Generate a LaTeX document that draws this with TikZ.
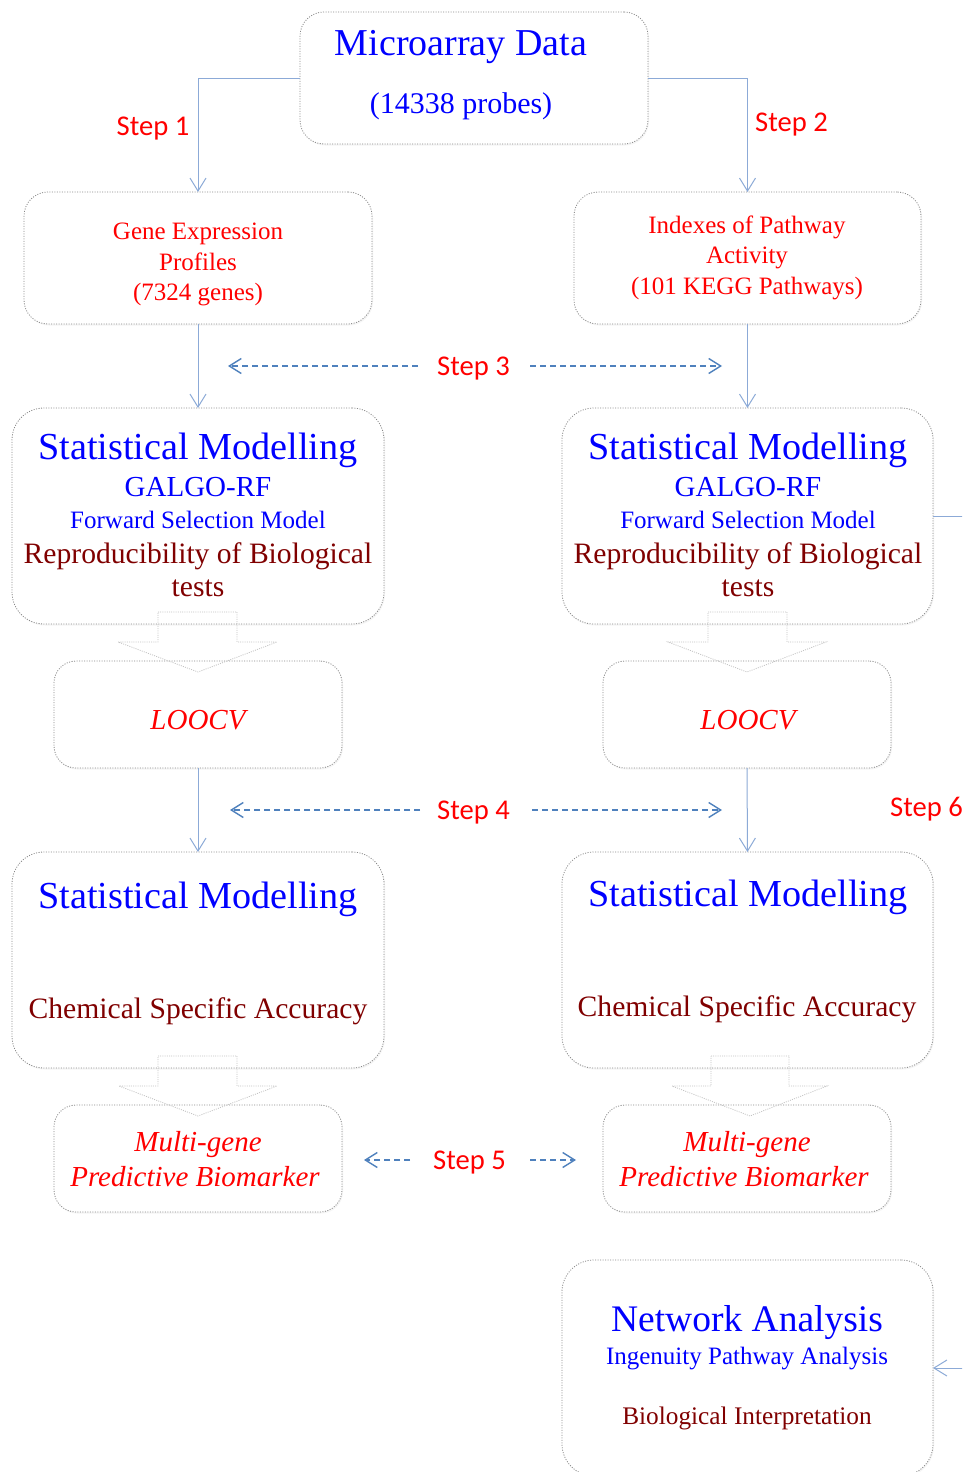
\documentclass[tikz,border=0pt]{standalone}
\usepackage{fontspec}
\setmainfont{Liberation Serif}
\newfontfamily\stepfont{Carlito}
\usetikzlibrary{arrows.meta,shadows}
\definecolor{tblue}{RGB}{0,0,255}
\definecolor{tred}{RGB}{255,0,0}
\definecolor{tdark}{RGB}{128,0,0}
\definecolor{connblue}{RGB}{140,170,215}
\definecolor{dashblue}{RGB}{79,129,189}
\definecolor{boxline}{RGB}{135,135,135}
\definecolor{blockline}{RGB}{195,195,195}
\newcommand{\fs}[1]{\fontsize{#1}{#1}\selectfont}
\begin{document}
\begin{tikzpicture}[x=1pt,y=-1pt,
  box/.style={draw=boxline, line width=0.8pt, dash pattern=on 1pt off 1.5pt,
    rounded corners=#1, fill=white, inner sep=0pt, outer sep=0pt,
    drop shadow={shadow xshift=1pt, shadow yshift=-1.5pt, opacity=0.08}},
  box/.default=28pt,
  conn/.style={draw=connblue, line width=1pt, -{Straight Barb[length=13pt,width=16pt]}},
  darr/.style={draw=dashblue, line width=1.4pt, dash pattern=on 6pt off 4pt,
    -{Straight Barb[length=12pt,width=15pt]}},
  blockarr/.style={draw=blockline, line width=0.8pt, dash pattern=on 1pt off 1.2pt},
  txt/.style={inner sep=0pt, anchor=base},
  steplbl/.style={font=\stepfont\fs{28.6}, text=tred, inner sep=0pt, anchor=base},
]
\useasboundingbox (0,0) rectangle (962,1472);
\clip (0,0) rectangle (962,1472);
\fill[white] (0,0) rectangle (962,1472);

% boxes
\node[box=24pt, minimum width=348pt, minimum height=132pt] (micro) at (474,78) {};
\node[box=24pt, minimum width=348pt, minimum height=132pt] (gene) at (198,258) {};
\node[box=24pt, minimum width=347pt, minimum height=132pt] (path) at (747.5,258) {};
\node[box=32pt, minimum width=372pt, minimum height=216pt] (statL) at (198,516) {};
\node[box=32pt, minimum width=371pt, minimum height=216pt] (statR) at (747.5,516) {};
\node[box=22pt, minimum width=288pt, minimum height=107pt] (loocvL) at (198,714.5) {};
\node[box=22pt, minimum width=288pt, minimum height=107pt] (loocvR) at (747,714.5) {};
\node[box=32pt, minimum width=372pt, minimum height=216pt] (chemL) at (198,960) {};
\node[box=32pt, minimum width=371pt, minimum height=216pt] (chemR) at (747.5,960) {};
\node[box=22pt, minimum width=288pt, minimum height=107pt] (multiL) at (198,1158.5) {};
\node[box=22pt, minimum width=288pt, minimum height=107pt] (multiR) at (747,1158.5) {};
\node[box=32pt, minimum width=371pt, minimum height=216pt] (net) at (747.5,1368) {};

% texts
\node[txt, font=\fs{38}, text=tblue] (t1a) at (461,56) {Microarray Data};
\node[txt, font=\fs{30}, text=tblue] (t1b) at (461,113) {(14338 probes)};

\node[txt, font=\fs{25}, text=tred] (g1) at (198,239) {Gene Expression};
\node[txt, font=\fs{25}, text=tred] (g2) at (198,270) {Profiles};
\node[txt, font=\fs{25}, text=tred] (g3) at (198,300) {(7324 genes)};

\node[txt, font=\fs{25}, text=tred] (p1) at (747,233) {Indexes of Pathway};
\node[txt, font=\fs{25}, text=tred] (p2) at (747,263) {Activity};
\node[txt, font=\fs{25}, text=tred] (p3) at (747,294) {(101 KEGG Pathways)};

\foreach \cx/\nm in {198/L, 748/R}{
  \node[txt, font=\fs{38.2}, text=tblue] (sa\nm) at (\cx,459) {Statistical Modelling};
  \node[txt, font=\fs{29}, text=tblue] (sb\nm) at (\cx,496) {GALGO-RF};
  \node[txt, font=\fs{25}, text=tblue] (sc\nm) at (\cx,528) {Forward Selection Model};
  \node[txt, font=\fs{29.6}, text=tdark] (sd\nm) at (\cx,563) {Reproducibility of Biological};
  \node[txt, font=\fs{29.6}, text=tdark] (se\nm) at (\cx,596) {tests};
  \node[txt, font=\fs{29}\itshape, text=tred] (lo\nm) at (\cx,729) {LOOCV};
}
\node[txt, font=\fs{38.2}, text=tblue] (caL) at (198,908) {Statistical Modelling};
\node[txt, font=\fs{29.6}, text=tdark] (cbL) at (198,1018) {Chemical Specific Accuracy};
\node[txt, font=\fs{38.2}, text=tblue] (caR) at (748,906) {Statistical Modelling};
\node[txt, font=\fs{29.6}, text=tdark] (cbR) at (747,1016) {Chemical Specific Accuracy};

\node[txt, font=\fs{29}\itshape, text=tred] (maL) at (198,1151) {Multi-gene};
\node[txt, font=\fs{29}\itshape, text=tred] (mbL) at (195,1186) {Predictive Biomarker};
\node[txt, font=\fs{29}\itshape, text=tred] (maR) at (747,1151) {Multi-gene};
\node[txt, font=\fs{29}\itshape, text=tred] (mbR) at (744,1186) {Predictive Biomarker};

\node[txt, font=\fs{37.5}, text=tblue] (na) at (747,1331) {Network Analysis};
\node[txt, font=\fs{25}, text=tblue] (nb) at (747,1364) {Ingenuity Pathway Analysis};
\node[txt, font=\fs{25.3}, text=tdark] (nc) at (747,1424) {Biological Interpretation};

% step labels
\node[steplbl] (st1) at (153,135) {Step 1};
\node[steplbl] (st2) at (791.5,131) {Step 2};
\node[steplbl] (st3) at (473.5,375) {Step 3};
\node[steplbl] (st4) at (473.5,819) {Step 4};
\node[steplbl] (st5) at (469.5,1169) {Step 5};
\node[steplbl, anchor=base west] (st6) at (890,816) {Step 6};

% connectors
\draw[conn] (micro.west) -| (gene.north);
\draw[conn] (micro.east) -| (path.north);
\draw[conn] (gene.south) -- (statL.north);
\draw[conn] (path.south) -- (statR.north);
\draw[conn] (loocvL.south) -- (chemL.north);
\draw[conn] (loocvR.south) -- (chemR.north);
\coordinate (offA) at (995,516);
\coordinate (offB) at (995,1368);
\draw[draw=connblue, line width=1pt] (statR.east) -- (offA);
\draw[conn] (offB) -- (net.east);

% dashed step arrows
\coordinate (d3a) at (418,366); \coordinate (d3b) at (228,366);
\coordinate (d3c) at (530,366); \coordinate (d3d) at (722,366);
\coordinate (d4a) at (420,810); \coordinate (d4b) at (230,810);
\coordinate (d4c) at (532,810); \coordinate (d4d) at (722,810);
\coordinate (d5a) at (410,1160); \coordinate (d5b) at (364,1160);
\coordinate (d5c) at (530,1160); \coordinate (d5d) at (576,1160);
\draw[darr] (d3a) -- (d3b);
\draw[darr] (d3c) -- (d3d);
\draw[darr] (d4a) -- (d4b);
\draw[darr] (d4c) -- (d4d);
\draw[darr] (d5a) -- (d5b);
\draw[darr] (d5c) -- (d5d);

% hollow block arrows
\draw[blockarr] (158,612) -- (237,612) -- (237,642) -- (277,642) -- (198,672) -- (118,642) -- (158,642) -- cycle;
\draw[blockarr] (708,612) -- (787,612) -- (787,642) -- (826,642) -- (747,672) -- (668,642) -- (708,642) -- cycle;
\draw[blockarr] (158,1056) -- (237,1056) -- (237,1086) -- (277,1086) -- (198,1116) -- (119,1086) -- (158,1086) -- cycle;
\draw[blockarr] (711,1056) -- (789,1056) -- (789,1086) -- (827,1086) -- (750,1116) -- (672,1086) -- (711,1086) -- cycle;
\end{tikzpicture}
\end{document}
